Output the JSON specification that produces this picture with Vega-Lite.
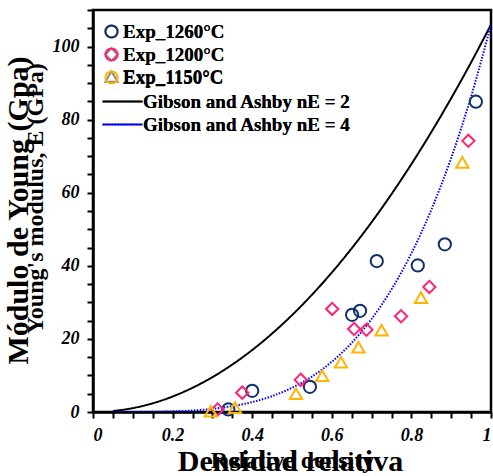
{
  "$schema": "https://vega.github.io/schema/vega-lite/v6.json",
  "width": 398,
  "height": 402,
  "autosize": {"type": "none"},
  "padding": {"left": 93, "top": 10, "right": 2, "bottom": 64},
  "background": "white",
  "config": {
    "font": "Liberation Serif",
    "view": {"stroke": "black", "strokeWidth": 2.5},
    "axis": {
      "domainColor": "black", "domainWidth": 2.5,
      "tickColor": "black", "tickWidth": 2, "tickSize": 6,
      "labelFont": "Liberation Serif", "labelFontSize": 18, "labelFontStyle": "italic",
      "labelFontWeight": "bold", "labelColor": "black", "labelPadding": 8,
      "titleFont": "Liberation Serif", "titleFontWeight": "bold", "titleColor": "black",
      "grid": false
    },
    "legend": {
      "labelFont": "Liberation Serif", "labelFontSize": 19, "labelFontWeight": "bold",
      "labelColor": "black", "padding": 0, "rowPadding": 2, "symbolStrokeWidth": 2, "labelLimit": 0
    }
  },
  "datasets": {
    "points": [
      {"series": "Exp_1260°C", "x": 0.34, "y": 0.7},
      {"series": "Exp_1260°C", "x": 0.40, "y": 5.8},
      {"series": "Exp_1260°C", "x": 0.545, "y": 6.9},
      {"series": "Exp_1260°C", "x": 0.651, "y": 26.6},
      {"series": "Exp_1260°C", "x": 0.671, "y": 27.7},
      {"series": "Exp_1260°C", "x": 0.713, "y": 41.3},
      {"series": "Exp_1260°C", "x": 0.816, "y": 40.1},
      {"series": "Exp_1260°C", "x": 0.884, "y": 45.9},
      {"series": "Exp_1260°C", "x": 0.962, "y": 84.9},
      {"series": "Exp_1200°C", "x": 0.313, "y": 0.7},
      {"series": "Exp_1200°C", "x": 0.375, "y": 5.3},
      {"series": "Exp_1200°C", "x": 0.522, "y": 8.8},
      {"series": "Exp_1200°C", "x": 0.601, "y": 28.2},
      {"series": "Exp_1200°C", "x": 0.656, "y": 22.7},
      {"series": "Exp_1200°C", "x": 0.687, "y": 22.5},
      {"series": "Exp_1200°C", "x": 0.774, "y": 26.2},
      {"series": "Exp_1200°C", "x": 0.845, "y": 34.2},
      {"series": "Exp_1200°C", "x": 0.943, "y": 74.2},
      {"series": "Exp_1150°C", "x": 0.296, "y": 0.2},
      {"series": "Exp_1150°C", "x": 0.357, "y": 1.2},
      {"series": "Exp_1150°C", "x": 0.51, "y": 5.0},
      {"series": "Exp_1150°C", "x": 0.576, "y": 9.9},
      {"series": "Exp_1150°C", "x": 0.623, "y": 13.6},
      {"series": "Exp_1150°C", "x": 0.667, "y": 17.7},
      {"series": "Exp_1150°C", "x": 0.725, "y": 22.4},
      {"series": "Exp_1150°C", "x": 0.824, "y": 31.3},
      {"series": "Exp_1150°C", "x": 0.928, "y": 68.3}
    ],
    "lines": [
      {"model": "Gibson and Ashby nE = 2", "x": 0.05, "y": 0.265},
      {"model": "Gibson and Ashby nE = 2", "x": 0.1, "y": 1.06},
      {"model": "Gibson and Ashby nE = 2", "x": 0.15, "y": 2.385},
      {"model": "Gibson and Ashby nE = 2", "x": 0.2, "y": 4.24},
      {"model": "Gibson and Ashby nE = 2", "x": 0.25, "y": 6.625},
      {"model": "Gibson and Ashby nE = 2", "x": 0.3, "y": 9.54},
      {"model": "Gibson and Ashby nE = 2", "x": 0.35, "y": 12.985},
      {"model": "Gibson and Ashby nE = 2", "x": 0.4, "y": 16.96},
      {"model": "Gibson and Ashby nE = 2", "x": 0.45, "y": 21.465},
      {"model": "Gibson and Ashby nE = 2", "x": 0.5, "y": 26.5},
      {"model": "Gibson and Ashby nE = 2", "x": 0.55, "y": 32.065},
      {"model": "Gibson and Ashby nE = 2", "x": 0.6, "y": 38.16},
      {"model": "Gibson and Ashby nE = 2", "x": 0.65, "y": 44.785},
      {"model": "Gibson and Ashby nE = 2", "x": 0.7, "y": 51.94},
      {"model": "Gibson and Ashby nE = 2", "x": 0.75, "y": 59.625},
      {"model": "Gibson and Ashby nE = 2", "x": 0.8, "y": 67.84},
      {"model": "Gibson and Ashby nE = 2", "x": 0.85, "y": 76.585},
      {"model": "Gibson and Ashby nE = 2", "x": 0.9, "y": 85.86},
      {"model": "Gibson and Ashby nE = 2", "x": 0.95, "y": 95.665},
      {"model": "Gibson and Ashby nE = 2", "x": 1.0, "y": 106},
      {"model": "Gibson and Ashby nE = 4", "x": 0.05, "y": 0.0},
      {"model": "Gibson and Ashby nE = 4", "x": 0.1, "y": 0.011},
      {"model": "Gibson and Ashby nE = 4", "x": 0.15, "y": 0.054},
      {"model": "Gibson and Ashby nE = 4", "x": 0.2, "y": 0.17},
      {"model": "Gibson and Ashby nE = 4", "x": 0.25, "y": 0.414},
      {"model": "Gibson and Ashby nE = 4", "x": 0.3, "y": 0.859},
      {"model": "Gibson and Ashby nE = 4", "x": 0.35, "y": 1.591},
      {"model": "Gibson and Ashby nE = 4", "x": 0.4, "y": 2.714},
      {"model": "Gibson and Ashby nE = 4", "x": 0.45, "y": 4.347},
      {"model": "Gibson and Ashby nE = 4", "x": 0.5, "y": 6.625},
      {"model": "Gibson and Ashby nE = 4", "x": 0.55, "y": 9.70},
      {"model": "Gibson and Ashby nE = 4", "x": 0.6, "y": 13.74},
      {"model": "Gibson and Ashby nE = 4", "x": 0.65, "y": 18.92},
      {"model": "Gibson and Ashby nE = 4", "x": 0.7, "y": 25.45},
      {"model": "Gibson and Ashby nE = 4", "x": 0.75, "y": 33.54},
      {"model": "Gibson and Ashby nE = 4", "x": 0.8, "y": 43.42},
      {"model": "Gibson and Ashby nE = 4", "x": 0.85, "y": 55.33},
      {"model": "Gibson and Ashby nE = 4", "x": 0.9, "y": 69.55},
      {"model": "Gibson and Ashby nE = 4", "x": 0.95, "y": 86.34},
      {"model": "Gibson and Ashby nE = 4", "x": 1.0, "y": 106}
    ]
  },
  "layer": [
    {
      "data": {"name": "lines"},
      "mark": {"type": "line", "strokeWidth": 2, "interpolate": "monotone", "clip": true},
      "encoding": {
        "x": {
          "field": "x", "type": "quantitative",
          "scale": {"domain": [0, 1], "nice": false, "zero": false},
          "axis": {
            "orient": "bottom", "labels": false, "ticks": false, "domain": false,
            "title": "Relative density", "titleFontSize": 24,
            "titleX": 199, "titleY": 55, "titleBaseline": "alphabetic", "titleAlign": "center"
          }
        },
        "y": {
          "field": "y", "type": "quantitative",
          "scale": {"domain": [0, 110], "nice": false},
          "axis": {
            "orient": "left", "labels": false, "ticks": false, "domain": false,
            "title": "Young's modulus, E (GPa)", "titleFontSize": 24, "titleAngle": 270,
            "titleX": -51, "titleY": 188, "titleBaseline": "alphabetic", "titleAlign": "center"
          }
        },
        "color": {
          "field": "model", "type": "nominal",
          "scale": {"domain": ["Gibson and Ashby nE = 2", "Gibson and Ashby nE = 4"], "range": ["black", "#0000FF"]},
          "legend": {"title": null, "orient": "none", "legendX": 20, "legendY": 82, "symbolType": "M-4,0L4,0", "symbolSize": 100, "labelOffset": 11, "rowPadding": 3}
        },
        "strokeDash": {
          "field": "model", "type": "nominal",
          "scale": {"domain": ["Gibson and Ashby nE = 2", "Gibson and Ashby nE = 4"], "range": [[1, 0], [1.5, 1.5]]},
          "legend": {"title": null, "orient": "none", "legendX": 20, "legendY": 82, "symbolType": "M-4,0L4,0", "symbolSize": 100, "labelOffset": 11, "rowPadding": 3}
        }
      }
    },
    {
      "data": {"name": "points"},
      "mark": {"type": "point", "filled": false, "size": 150, "strokeWidth": 2, "opacity": 1},
      "encoding": {
        "x": {
          "field": "x", "type": "quantitative",
          "scale": {"domain": [0, 1], "nice": false, "zero": false},
          "axis": {
            "orient": "bottom",
            "values": [0, 0.05, 0.1, 0.15, 0.2, 0.25, 0.3, 0.35, 0.4, 0.45, 0.5, 0.55, 0.6, 0.65, 0.7, 0.75, 0.8, 0.85, 0.9, 0.95, 1],
            "labelExpr": "indexof(['0','0.2','0.4','0.6','0.8','1'], format(datum.value,'~g')) >= 0 ? format(datum.value,'~g') : ''",
            "title": "Densidad relativa", "titleFontSize": 30,
            "titleX": 197, "titleY": 58, "titleBaseline": "alphabetic", "titleAlign": "center"
          }
        },
        "y": {
          "field": "y", "type": "quantitative",
          "scale": {"domain": [0, 110], "nice": false},
          "axis": {
            "orient": "left",
            "values": [0, 5, 10, 15, 20, 25, 30, 35, 40, 45, 50, 55, 60, 65, 70, 75, 80, 85, 90, 95, 100, 105, 110],
            "labelExpr": "datum.value % 20 === 0 ? datum.label : ''",
            "title": "Módulo de Young (Gpa)", "titleFontSize": 30, "titleAngle": 270,
            "titleX": -66, "titleY": 200, "titleBaseline": "alphabetic", "titleAlign": "center"
          }
        },
        "color": {
          "field": "series", "type": "nominal",
          "scale": {"domain": ["Exp_1260°C", "Exp_1200°C", "Exp_1150°C"], "range": ["#102F6B", "#FF2277", "#FFB400"]},
          "legend": {"title": null, "orient": "none", "legendX": 9, "legendY": 12, "labelOffset": 2, "symbolSize": 150, "symbolFillColor": "transparent"}
        },
        "shape": {
          "field": "series", "type": "nominal",
          "scale": {"domain": ["Exp_1260°C", "Exp_1200°C", "Exp_1150°C"], "range": ["circle", "diamond", "triangle-up"]},
          "legend": {"title": null, "orient": "none", "legendX": 9, "legendY": 12, "labelOffset": 2, "symbolSize": 150, "symbolFillColor": "transparent"}
        }
      }
    }
  ],
  "resolve": {
    "scale": {"color": "independent"},
    "axis": {"x": "independent", "y": "independent"}
  }
}
